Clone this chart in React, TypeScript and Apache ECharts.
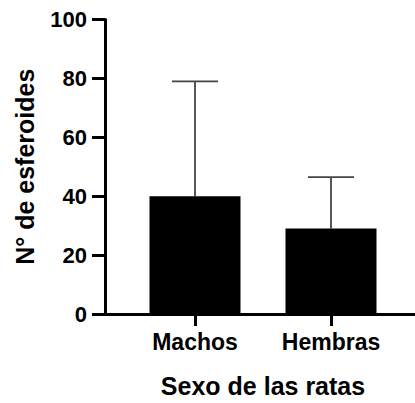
import React, { useEffect, useRef } from "react";
import * as echarts from "echarts";

const categories = ["Machos", "Hembras"];
const means = [40, 29];
const sdUpper = [39, 17.5];
const yTicks = [0, 20, 40, 60, 80, 100];

const FONT = "'Liberation Sans', Arial, Helvetica, sans-serif";

export default function App() {
  const ref = useRef<HTMLDivElement>(null);
  useEffect(() => {
    if (!ref.current) return;
    const chart = echarts.init(ref.current, null, { renderer: "svg" });
    const errData = categories.map((c, i) => [i, means[i], means[i] + sdUpper[i]]);
    chart.setOption({
      animation: false,
      backgroundColor: "#ffffff",
      grid: [
        { left: 105, right: 0, top: 19.5, bottom: 89 },
        { left: 127, width: 272, top: 19.5, bottom: 89 },
      ],
      xAxis: [
        {
          gridIndex: 0,
          type: "value",
          min: 0,
          max: 1,
          axisLine: { show: true, lineStyle: { color: "#000", width: 3 } },
          axisTick: { show: false },
          axisLabel: { show: false },
          splitLine: { show: false },
        },
        {
          gridIndex: 1,
          type: "category",
          data: categories,
          axisLine: { show: false },
          axisTick: { show: true, alignWithLabel: true, length: 12, lineStyle: { color: "#000", width: 3 } },
          axisLabel: { color: "#000", fontWeight: "bold", fontSize: 23, fontFamily: FONT, margin: 16 },
          name: "Sexo de las ratas",
          nameLocation: "middle",
          nameGap: 59,
          nameTextStyle: { color: "#000", fontWeight: "bold", fontSize: 25, fontFamily: FONT },
        },
      ],
      yAxis: [
        {
          gridIndex: 0,
          type: "value",
          min: yTicks[0],
          max: yTicks[yTicks.length - 1],
          interval: yTicks[1] - yTicks[0],
          axisLine: { show: true, lineStyle: { color: "#000", width: 3 } },
          axisTick: { show: true, length: 13, lineStyle: { color: "#000", width: 3 } },
          axisLabel: { color: "#000", fontWeight: "bold", fontSize: 22, fontFamily: FONT, margin: 18 },
          splitLine: { show: false },
          name: "N° de esferoides",
          nameLocation: "middle",
          nameRotate: 90,
          nameGap: 68,
          nameTextStyle: { color: "#000", fontWeight: "bold", fontSize: 25, fontFamily: FONT },
        },
        {
          gridIndex: 1,
          type: "value",
          min: yTicks[0],
          max: yTicks[yTicks.length - 1],
          show: false,
        },
      ],
      series: [
        {
          type: "custom",
          xAxisIndex: 1,
          yAxisIndex: 1,
          z: 1,
          data: errData,
          renderItem: (params: any, api: any) => {
            const base = api.coord([api.value(0), api.value(1)]);
            const top = api.coord([api.value(0), api.value(2)]);
            const half = 23;
            const style = { stroke: "#444", lineWidth: 1.8 };
            return {
              type: "group",
              children: [
                { type: "line", shape: { x1: base[0], y1: base[1], x2: top[0], y2: top[1] }, style },
                { type: "line", shape: { x1: top[0] - half, y1: top[1], x2: top[0] + half, y2: top[1] }, style },
              ],
            };
          },
        },
        {
          type: "bar",
          xAxisIndex: 1,
          yAxisIndex: 1,
          z: 2,
          data: means,
          barWidth: 91,
          itemStyle: { color: "#000" },
        },
      ],
    });
    return () => chart.dispose();
  }, []);
  return (
    <div
      ref={ref}
      style={{ position: "fixed", left: 0, top: 0, width: 415, height: 403, background: "#fff" }}
    />
  );
}
